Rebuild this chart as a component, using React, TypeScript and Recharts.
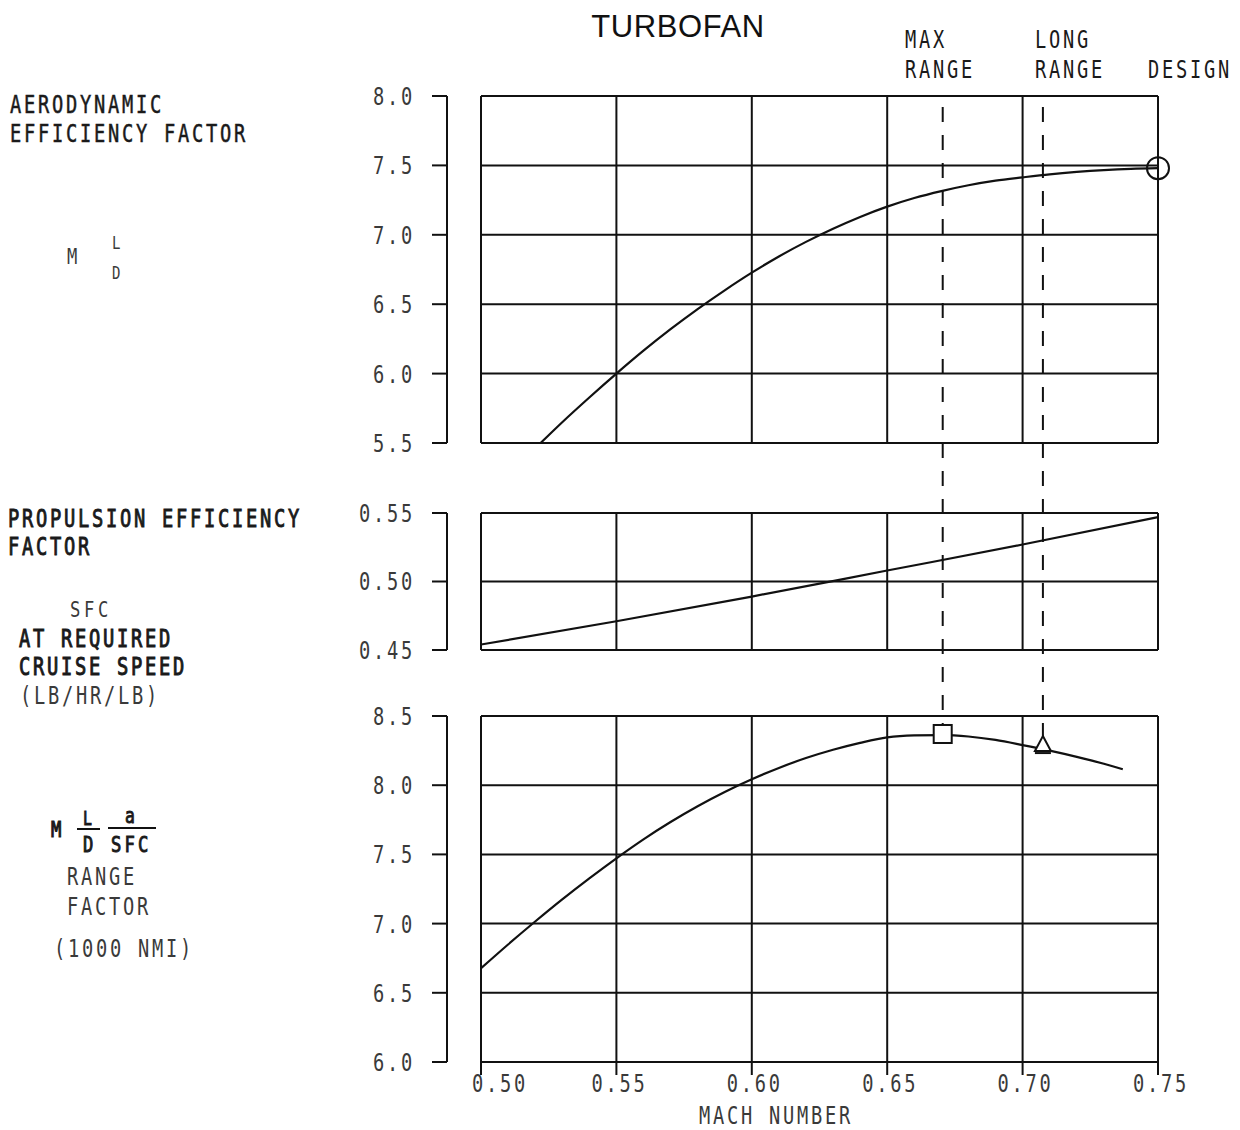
import React from 'react';
import {
  ComposedChart,
  Line,
  XAxis,
  YAxis,
  CartesianGrid,
  ReferenceLine,
  ReferenceDot,
} from 'recharts';

// ---------------- data ----------------
const MACH_TICKS = [0.5, 0.55, 0.6, 0.65, 0.7, 0.75];
const LD_TICKS = [5.5, 6.0, 6.5, 7.0, 7.5, 8.0];
const SFC_TICKS = [0.45, 0.5, 0.55];
const RF_TICKS = [6.0, 6.5, 7.0, 7.5, 8.0, 8.5];

// Aerodynamic efficiency factor  M L/D
const LD_MACH = [0.522, 0.53, 0.54, 0.55, 0.56, 0.57, 0.58, 0.59, 0.6, 0.61, 0.62, 0.63, 0.64, 0.65, 0.66, 0.67, 0.68, 0.69, 0.7, 0.71, 0.72, 0.73, 0.74, 0.75];
const LD_VALUES = [5.5, 5.65, 5.828, 6.0, 6.165, 6.32, 6.465, 6.6, 6.727, 6.844, 6.949, 7.044, 7.129, 7.203, 7.265, 7.315, 7.357, 7.39, 7.414, 7.436, 7.453, 7.466, 7.475, 7.48];

// Propulsion efficiency factor  SFC (LB/HR/LB)
const SFC_MACH = [0.5, 0.55, 0.6, 0.65, 0.7, 0.75];
const SFC_VALUES = [0.454, 0.471, 0.489, 0.508, 0.527, 0.547];

// Range factor (1000 NMI)
const RF_MACH = [0.5, 0.51, 0.52, 0.53, 0.54, 0.55, 0.56, 0.57, 0.58, 0.59, 0.6, 0.61, 0.62, 0.63, 0.64, 0.65, 0.66, 0.67, 0.68, 0.69, 0.7, 0.71, 0.72, 0.73, 0.737];
const RF_VALUES = [6.677, 6.849, 7.015, 7.175, 7.327, 7.472, 7.609, 7.734, 7.848, 7.951, 8.043, 8.125, 8.196, 8.256, 8.306, 8.346, 8.36, 8.362, 8.352, 8.327, 8.29, 8.25, 8.205, 8.155, 8.115];

// Operating points
const MAX_RANGE_MACH = 0.6705;
const MAX_RANGE_RF = 8.37;
const LONG_RANGE_MACH = 0.7075;
const LONG_RANGE_RF = 8.29;
const DESIGN_MACH = 0.75;
const DESIGN_LD = 7.48;
// top end of the dashed guide lines, on the range-factor scale
const GUIDE_TOP_RF = 12.9;

const ldData = LD_MACH.map((m, i) => ({ m, v: LD_VALUES[i] }));
const sfcData = SFC_MACH.map((m, i) => ({ m, v: SFC_VALUES[i] }));
const rfData = RF_MACH.map((m, i) => ({ m, v: RF_VALUES[i] }));

// ---------------- layout / style ----------------
const W = 1240;
const H = 1130;
const PLOT_LEFT = 481;
const PLOT_RIGHT = 1158;
const X_AXIS_H = 50;
const PANEL_LD = { top: 96, bottom: 443 };
const PANEL_SFC = { top: 513, bottom: 650 };
const PANEL_RF = { top: 716, bottom: 1062 };
const BRACKET_GAP_PX = 34;
const BRACKET_M = 0.5 - BRACKET_GAP_PX * (0.25 / (PLOT_RIGHT - PLOT_LEFT));

const INK = '#111';
const INK_TXT = '#1a1a1a';
const INK_LIGHT = '#3a3a3a';
const MONO = "'DejaVu Sans Mono', 'Liberation Mono', monospace";
const SX = 0.78;

type TProps = {
  x: number;
  y: number;
  size?: number;
  anchor?: 'start' | 'middle' | 'end';
  weight?: 'normal' | 'bold';
  fill?: string;
  adv?: number;
  heavy?: number;
  children: React.ReactNode;
};

function TText({ x, y, size = 24, anchor = 'start', weight = 'normal', fill = INK_TXT, adv = 14, heavy = 0, children }: TProps) {
  const natural = 0.602 * size * SX;
  const ls = (adv - natural) / SX;
  return (
    <text
      x={x / SX}
      y={y}
      transform={`scale(${SX},1)`}
      fontFamily={MONO}
      fontSize={size}
      fontWeight={weight}
      textAnchor={anchor}
      letterSpacing={ls}
      fill={fill}
      stroke={heavy ? fill : 'none'}
      strokeWidth={heavy}
    >
      {children}
    </text>
  );
}

const makeYTick = (digits: number) => (props: any) => {
  const { x, y, payload } = props;
  return (
    <g>
      <line x1={x - 49} x2={x - BRACKET_GAP_PX} y1={y} y2={y} stroke={INK} strokeWidth={2} />
      <TText x={x - 66} y={y + 9} anchor="end" fill={INK_LIGHT}>
        {Number(payload.value).toFixed(digits)}
      </TText>
    </g>
  );
};

const XTick = (props: any) => {
  const { x, y, payload, index } = props;
  const shift = index === 0 ? 16 : 0;
  return (
    <TText x={x + shift + 3} y={y + 17} anchor="middle" fill={INK_LIGHT}>
      {Number(payload.value).toFixed(2)}
    </TText>
  );
};

const EmptyTick = () => <g />;

const SquareShape = (props: any) => {
  const { cx, cy } = props;
  return <rect x={cx - 9} y={cy - 9} width={18} height={18} fill="#fff" stroke={INK} strokeWidth={2} />;
};

const TriangleShape = (props: any) => {
  const { cx, cy } = props;
  return (
    <g>
      <path d={`M${cx} ${cy - 9} L${cx + 8} ${cy + 6} L${cx - 8} ${cy + 6} Z`} fill="#fff" stroke={INK} strokeWidth={2} />
      <line x1={cx - 8} x2={cx + 8} y1={cy + 8} y2={cy + 8} stroke={INK} strokeWidth={2} />
    </g>
  );
};

const CircleShape = (props: any) => {
  const { cx, cy } = props;
  return <circle cx={cx} cy={cy} r={11} fill="none" stroke={INK} strokeWidth={2} />;
};

const abs: React.CSSProperties = { position: 'absolute', left: 0, top: 0, width: W, height: H };

function Panel({
  data,
  panel,
  domain,
  ticks,
  digits,
  showX,
  children,
}: {
  data: { m: number; v: number }[];
  panel: { top: number; bottom: number };
  domain: [number, number];
  ticks: number[];
  digits: number;
  showX: boolean;
  children?: React.ReactNode;
}) {
  const xh = showX ? X_AXIS_H : 0;
  return (
    <div style={abs}>
      <ComposedChart
        width={W}
        height={H}
        data={data}
        margin={{ top: panel.top, bottom: H - panel.bottom - xh, left: 0, right: W - PLOT_RIGHT }}
      >
        <CartesianGrid stroke={INK} strokeWidth={2} />
        {showX ? (
          <XAxis
            type="number"
            dataKey="m"
            domain={[0.5, 0.75]}
            ticks={MACH_TICKS}
            allowDataOverflow
            interval={0}
            height={X_AXIS_H}
            axisLine={false}
            tickLine={{ stroke: INK, strokeWidth: 2 }}
            tickSize={13}
            tickMargin={0}
            tick={XTick}
          />
        ) : (
          <XAxis
            type="number"
            dataKey="m"
            domain={[0.5, 0.75]}
            ticks={MACH_TICKS}
            allowDataOverflow
            interval={0}
            height={0}
            axisLine={false}
            tickLine={false}
            tickSize={0}
            tick={EmptyTick}
          />
        )}
        <YAxis
          type="number"
          domain={domain}
          ticks={ticks}
          allowDataOverflow
          interval={0}
          width={PLOT_LEFT}
          axisLine={false}
          tickLine={false}
          tickSize={0}
          tickMargin={0}
          tick={makeYTick(digits)}
        />
        <ReferenceLine x={BRACKET_M} ifOverflow="visible" stroke={INK} strokeWidth={2} />
        <Line type="monotone" dataKey="v" stroke={INK} strokeWidth={2.2} dot={false} isAnimationActive={false} />
        {children}
      </ComposedChart>
    </div>
  );
}

export default function App() {
  return (
    <div style={{ ...abs, background: '#fff' }}>
      <Panel data={ldData} panel={PANEL_LD} domain={[5.5, 8.0]} ticks={LD_TICKS} digits={1} showX={false}>
        <ReferenceDot x={DESIGN_MACH} y={DESIGN_LD} r={11} ifOverflow="visible" shape={CircleShape} />
      </Panel>
      <Panel data={sfcData} panel={PANEL_SFC} domain={[0.45, 0.55]} ticks={SFC_TICKS} digits={2} showX={false} />
      <Panel data={rfData} panel={PANEL_RF} domain={[6.0, 8.5]} ticks={RF_TICKS} digits={1} showX={true}>
        <ReferenceLine
          segment={[
            { x: MAX_RANGE_MACH, y: GUIDE_TOP_RF },
            { x: MAX_RANGE_MACH, y: MAX_RANGE_RF + 0.06 },
          ]}
          ifOverflow="visible"
          stroke={INK}
          strokeWidth={2}
          strokeDasharray="15 13"
        />
        <ReferenceLine
          segment={[
            { x: LONG_RANGE_MACH, y: GUIDE_TOP_RF },
            { x: LONG_RANGE_MACH, y: LONG_RANGE_RF + 0.06 },
          ]}
          ifOverflow="visible"
          stroke={INK}
          strokeWidth={2}
          strokeDasharray="15 13"
        />
        <ReferenceDot x={MAX_RANGE_MACH} y={MAX_RANGE_RF} r={9} ifOverflow="visible" shape={SquareShape} />
        <ReferenceDot x={LONG_RANGE_MACH} y={LONG_RANGE_RF} r={9} ifOverflow="visible" shape={TriangleShape} />
      </Panel>

      <svg style={{ ...abs, pointerEvents: 'none' }} width={W} height={H}>
        <text x={678} y={37} textAnchor="middle" fontFamily="'Liberation Sans', Arial, sans-serif" fontSize={31} letterSpacing={0.6} fill={INK}>
          TURBOFAN
        </text>

        <TText x={905} y={48}>MAX</TText>
        <TText x={905} y={78}>RANGE</TText>
        <TText x={1035} y={48}>LONG</TText>
        <TText x={1035} y={78}>RANGE</TText>
        <TText x={1148} y={78}>DESIGN</TText>

        <TText x={10} y={113} heavy={0.5}>AERODYNAMIC</TText>
        <TText x={10} y={142} heavy={0.5}>EFFICIENCY FACTOR</TText>
        <TText x={67} y={264} size={22} fill={INK_LIGHT}>M</TText>
        <TText x={112} y={249} size={18} fill={INK_LIGHT}>L</TText>
        <TText x={112} y={279} size={18} fill={INK_LIGHT}>D</TText>

        <TText x={8} y={527} heavy={0.9}>PROPULSION EFFICIENCY</TText>
        <TText x={8} y={555} heavy={0.9}>FACTOR</TText>
        <TText x={70} y={617} size={22} fill={INK_LIGHT}>SFC</TText>
        <TText x={19} y={647} heavy={1}>AT REQUIRED</TText>
        <TText x={19} y={675} heavy={1}>CRUISE SPEED</TText>
        <TText x={20} y={704} fill={INK_LIGHT}>(LB/HR/LB)</TText>

        <TText x={51} y={837} size={22} heavy={1.2}>M</TText>
        <TText x={83} y={825} size={19} heavy={1}>L</TText>
        <line x1={77} x2={100} y1={829} y2={829} stroke={INK} strokeWidth={2} />
        <TText x={83} y={852} size={22} heavy={1}>D</TText>
        <TText x={125} y={823} size={21} heavy={1}>a</TText>
        <line x1={108} x2={156} y1={828} y2={828} stroke={INK} strokeWidth={2} />
        <TText x={111} y={852} size={22} heavy={1} adv={13.5}>SFC</TText>
        <TText x={67} y={885} fill={INK_LIGHT}>RANGE</TText>
        <TText x={67} y={915} fill={INK_LIGHT}>FACTOR</TText>
        <TText x={54} y={957} fill={INK_LIGHT}>(1000 NMI)</TText>

        <TText x={776} y={1124} anchor="middle" fill={INK_LIGHT}>MACH NUMBER</TText>
      </svg>
    </div>
  );
}
